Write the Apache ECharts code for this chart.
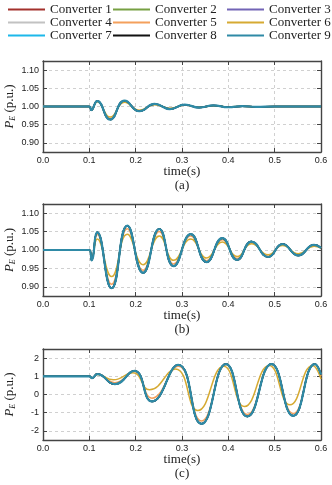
<!DOCTYPE html>
<html>
<head>
<meta charset="utf-8">
<script src="https://cdn.jsdelivr.net/npm/echarts@6/dist/echarts.min.js"></script>
<style>
  html, body { margin: 0; padding: 0; background: #fff; }
  #main { width: 332px; height: 485px; }
</style>
</head>
<body>
<div id="main"></div>
<script>
// converter names and colours
const names = ['Converter 1', 'Converter 2', 'Converter 3', 'Converter 4', 'Converter 5',
               'Converter 6', 'Converter 7', 'Converter 8', 'Converter 9'];
const colors = ['#a3312c', '#77a042', '#7264b6', '#c2c2c2', '#f4a05c',
                '#d6aa32', '#1cb8ea', '#111111', '#2f8aa6'];

// panel (a): key points (peaks / troughs)
const tA = [0, 0.1, 0.104, 0.117, 0.145, 0.176, 0.208, 0.241, 0.274, 0.306, 0.337, 0.368, 0.4, 0.43, 0.46, 0.5, 0.6];
const aOuter = [1, 1, 0.99, 1.015, 0.964, 1.016, 0.987, 1.007, 0.993, 1.005, 0.997, 1.003, 0.998, 1.001, 0.999, 1.0, 1.0];
const aMid   = [1, 1, 0.99, 1.014, 0.967, 1.014, 0.988, 1.006, 0.994, 1.004, 0.997, 1.003, 0.998, 1.001, 0.999, 1.0, 1.0];
const aInner = [1, 1, 0.991, 1.013, 0.971, 1.012, 0.99, 1.005, 0.995, 1.004, 0.998, 1.002, 0.999, 1.001, 0.999, 1.0, 1.0];

// panel (b)
const tB = [0, 0.1, 0.105, 0.117, 0.148, 0.182, 0.216, 0.251, 0.282, 0.319, 0.353, 0.387, 0.419, 0.45, 0.486, 0.517, 0.551, 0.585, 0.6];
const bOuter = [1, 1, 0.972, 1.048, 0.896, 1.066, 0.938, 1.057, 0.956, 1.043, 0.967, 1.032, 0.973, 1.023, 0.981, 1.016, 0.985, 1.014, 1.006];
const bMid   = [1, 1, 0.974, 1.042, 0.907, 1.058, 0.945, 1.05, 0.962, 1.038, 0.971, 1.028, 0.977, 1.02, 0.983, 1.014, 0.987, 1.012, 1.006];
const bInner = [1, 1, 0.976, 1.03, 0.928, 1.043, 0.96, 1.038, 0.972, 1.03, 0.978, 1.022, 0.982, 1.017, 0.987, 1.012, 0.99, 1.01, 1.005];

// panel (c)
const tC = [0, 0.1, 0.106, 0.117, 0.155, 0.197, 0.235, 0.292, 0.342, 0.395, 0.441, 0.493, 0.54, 0.587, 0.6];
const cOuter = [1, 1, 0.9, 1.12, 0.57, 1.3, -0.38, 1.63, -1.61, 1.67, -1.21, 1.67, -1.17, 1.67, 1.1];
const cMid   = [1, 1, 0.9, 1.12, 0.65, 1.27, -0.2, 1.55, -1.45, 1.63, -1.1, 1.65, -1.05, 1.66, 1.0];
const tCInner = [0, 0.1, 0.106, 0.117, 0.152, 0.194, 0.23, 0.286, 0.334, 0.39, 0.435, 0.488, 0.533, 0.582, 0.6];
const cInner = [1, 1, 0.9, 1.1, 0.81, 1.2, 0.26, 1.4, -0.88, 1.55, -0.66, 1.6, -0.57, 1.6, 0.85];

const panels = [
    { top: 61, height: 91, min: 0.875, max: 1.125, step: 0.05, dec: 2, tag: '(a)',
      outer: [tA, aOuter], mid: [tA, aMid], inner: [tA, aInner] },
    { top: 204, height: 92, min: 0.875, max: 1.125, step: 0.05, dec: 2, tag: '(b)',
      outer: [tB, bOuter], mid: [tB, bMid], inner: [tB, bInner] },
    { top: 349, height: 91, min: -2.5, max: 2.5, step: 1, dec: 0, tag: '(c)',
      outer: [tC, cOuter], mid: [tC, cMid], inner: [tCInner, cInner] }
];

const sans = 'Liberation Sans';
const serif = 'Liberation Serif';
const frame = { show: true, onZero: false, lineStyle: { color: '#444', width: 1.4 } };
const tickIn = { show: true, inside: true, length: 4, lineStyle: { color: '#444' } };

function pairs(t, v) {
    return t.map((x, i) => [x, v[i]]);
}

const grid = [], xAxis = [], yAxis = [], series = [];

panels.forEach((p, g) => {
    grid.push({ left: 43, right: 11, top: p.top, height: p.height,
                containLabel: false, outerBoundsMode: 'none' });

    xAxis.push({
        gridIndex: g, type: 'value', min: 0, max: 0.6, interval: 0.1,
        name: 'time(s)\n' + p.tag, nameLocation: 'middle', nameGap: 13, nameMoveOverlap: false,
        nameTextStyle: { fontFamily: serif, fontSize: 13, color: '#222', lineHeight: 14 },
        axisLine: frame, axisTick: tickIn,
        axisLabel: { fontFamily: sans, fontSize: 9, color: '#222', margin: 4,
                     formatter: v => v.toFixed(1) },
        splitLine: { show: true, lineStyle: { color: '#d0d0d0', type: [3, 3] } }
    });
    xAxis.push({
        gridIndex: g, type: 'value', position: 'top', min: 0, max: 0.6, interval: 0.1,
        axisLine: frame, axisTick: tickIn, axisLabel: { show: false }, splitLine: { show: false }
    });

    yAxis.push({
        gridIndex: g, type: 'value', min: p.min, max: p.max, splitNumber: 5,
        name: '{p|P}{e|E}{n| (p.u.)}', nameLocation: 'middle', nameGap: 26, nameRotate: 90,
        nameMoveOverlap: false,
        nameTextStyle: {
            rich: {
                p: { fontFamily: serif, fontStyle: 'italic', fontSize: 13, color: '#222' },
                e: { fontFamily: serif, fontStyle: 'italic', fontSize: 8, color: '#222',
                     verticalAlign: 'bottom', padding: [6, 0, 0, 0] },
                n: { fontFamily: serif, fontSize: 13, color: '#222' }
            }
        },
        axisLine: frame, axisTick: tickIn,
        axisLabel: {
            fontFamily: sans, fontSize: 9, color: '#222', margin: 4,
            showMinLabel: false, showMaxLabel: false,
            formatter: v => {
                const k = v / p.step;
                return Math.abs(k - Math.round(k)) < 1e-6 ? v.toFixed(p.dec) : '';
            }
        },
        splitLine: { show: true, lineStyle: { color: '#d0d0d0', type: [3, 3] } }
    });
    yAxis.push({
        gridIndex: g, type: 'value', position: 'right', min: p.min, max: p.max, splitNumber: 5,
        axisLine: frame, axisTick: tickIn, axisLabel: { show: false }, splitLine: { show: false }
    });

    names.forEach((n, i) => {
        // converter 5 and 6 swing less, the rest sit on the outer curve
        const src = i === 4 ? p.mid : i === 5 ? p.inner : p.outer;
        series.push({
            name: n, type: 'line', xAxisIndex: g * 2, yAxisIndex: g * 2,
            data: pairs(src[0], src[1]), smooth: 0.5, symbol: 'none',
            lineStyle: { width: i === 8 ? 2.2 : 1.5, color: colors[i] },
            itemStyle: { color: colors[i] }, silent: true
        });
    });
});

const legendCols = [[0, 3, 6], [1, 4, 7], [2, 5, 8]];
const legendLeft = [3, 108, 222];
const legend = legendCols.map((col, k) => ({
    orient: 'vertical', left: legendLeft[k], top: -2, itemGap: 0,
    icon: 'rect', itemWidth: 37, itemHeight: 2,
    textStyle: { fontFamily: serif, fontSize: 13, color: '#222', lineHeight: 13 },
    data: col.map(i => names[i])
}));

const chart = echarts.init(document.getElementById('main'));
chart.setOption({
    animation: false,
    color: colors,
    legend: legend,
    grid: grid,
    xAxis: xAxis,
    yAxis: yAxis,
    series: series
});
</script>
</body>
</html>
